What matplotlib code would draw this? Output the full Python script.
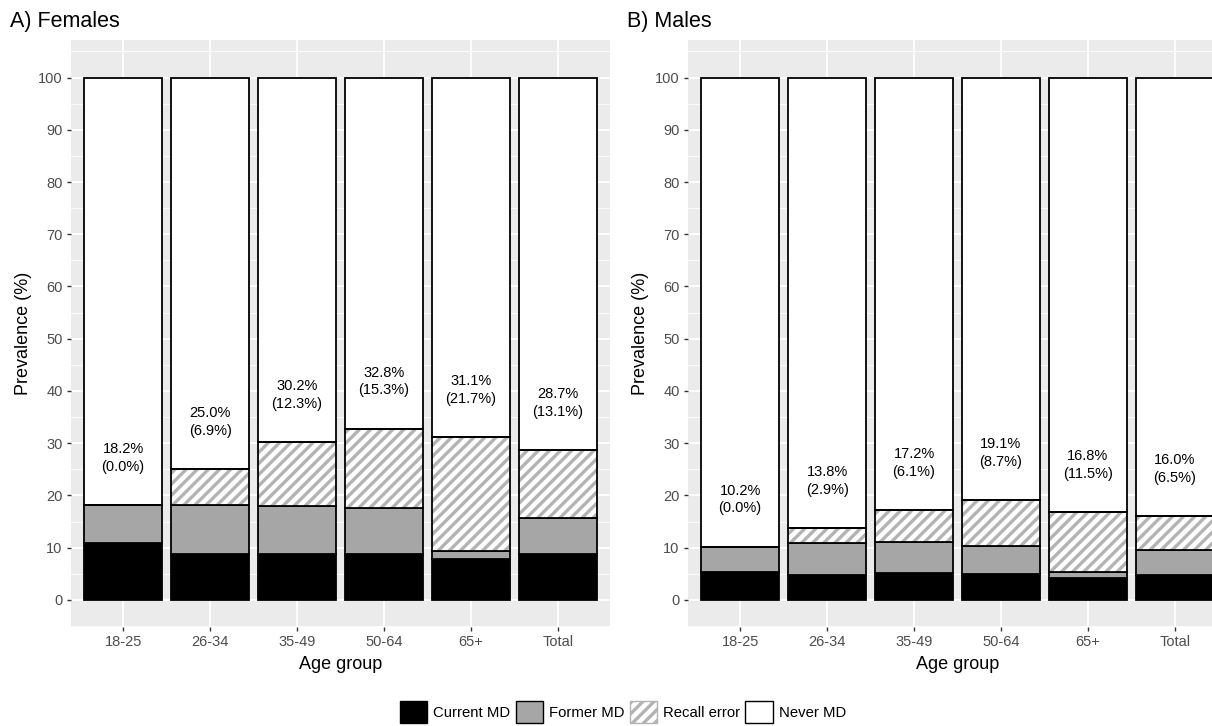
import numpy as np
import matplotlib
matplotlib.use('Agg')
import matplotlib.pyplot as plt
from matplotlib.patches import Patch

plt.rcParams['font.family'] = ['Liberation Sans', 'DejaVu Sans']
plt.rcParams['hatch.linewidth'] = 2.4

# Data (percent prevalence per age group)
age_groups = ['18-25', '26-34', '35-49', '50-64', '65+', 'Total']

female_current = [10.9, 8.7, 8.7, 8.7, 7.9, 8.7]
female_former = [7.3, 9.4, 9.2, 8.8, 1.5, 6.9]
female_recall = [0.0, 6.9, 12.3, 15.3, 21.7, 13.1]
female_total = [18.2, 25.0, 30.2, 32.8, 31.1, 28.7]

male_current = [5.4, 4.7, 5.2, 5.0, 4.2, 4.8]
male_former = [4.8, 6.2, 5.9, 5.4, 1.1, 4.7]
male_recall = [0.0, 2.9, 6.1, 8.7, 11.5, 6.5]
male_total = [10.2, 13.8, 17.2, 19.1, 16.8, 16.0]

panel_titles = ['A) Females', 'B) Males']
legend_labels = ['Current MD', 'Former MD', 'Recall error', 'Never MD']

GREY = '#A6A6A6'
HATCH = '#B3B3B3'
BG = '#EBEBEB'
W, H = 1212, 726


def draw_panel(ax, current, former, recall, total):
    x = np.arange(len(age_groups))
    current = np.array(current)
    former = np.array(former)
    recall = np.array(recall)
    total = np.array(total)
    never = 100 - total
    bw = 0.9
    lw = 1.3

    ax.bar(x, current, bw, color='black', edgecolor='black', linewidth=lw, zorder=3)
    ax.bar(x, former, bw, bottom=current, color=GREY, edgecolor='black',
           linewidth=lw, zorder=3)
    # hatch first, then outline on top
    ax.bar(x, recall, bw, bottom=current + former, color='white', edgecolor=HATCH,
           hatch='///', linewidth=0, zorder=3)
    ax.bar(x, recall, bw, bottom=current + former, color='none', edgecolor='black',
           linewidth=lw, zorder=4)
    ax.bar(x, never, bw, bottom=total, color='white', edgecolor='black',
           linewidth=lw, zorder=3)

    for xi, t, r in zip(x, total, recall):
        ax.text(xi, t + 9, f'{t:.1f}%\n({r:.1f}%)', ha='center', va='center',
                fontsize=10.5, linespacing=1.35, zorder=5)

    ax.set_facecolor(BG)
    ax.set_xlim(-0.6, len(age_groups) - 0.4)
    ax.set_ylim(-5.2, 107.2)
    ax.set_xticks(x)
    ax.set_xticklabels(age_groups)
    ax.set_yticks(np.arange(0, 101, 10))
    ax.set_yticks(np.arange(-5, 106, 10), minor=True)
    ax.grid(which='major', color='white', linewidth=1.3)
    ax.grid(which='minor', axis='y', color='white', linewidth=0.6)
    ax.set_axisbelow(True)
    for s in ax.spines.values():
        s.set_visible(False)
    ax.tick_params(which='major', length=3, width=1, color='#333333',
                   labelcolor='#4D4D4D', labelsize=10.5, pad=3)
    ax.tick_params(which='minor', length=0)
    ax.set_xlabel('Age group', fontsize=13, labelpad=5)
    ax.set_ylabel('Prevalence (%)', fontsize=13, labelpad=4)


fig = plt.figure(figsize=(W / 100, H / 100), dpi=100)

ax1 = fig.add_axes([71 / W, 1 - 627 / H, 539 / W, 587 / H])
ax2 = fig.add_axes([688 / W, 1 - 627 / H, 539 / W, 587 / H])

draw_panel(ax1, female_current, female_former, female_recall, female_total)
draw_panel(ax2, male_current, male_former, male_recall, male_total)

fig.text(10 / W, 1 - 21 / H, panel_titles[0], fontsize=15.5, ha='left', va='center')
fig.text(627 / W, 1 - 21 / H, panel_titles[1], fontsize=15.5, ha='left', va='center')

handles = [
    Patch(facecolor='black', edgecolor='black', linewidth=1),
    Patch(facecolor=GREY, edgecolor='black', linewidth=1),
    Patch(facecolor='white', edgecolor=HATCH, hatch='///', linewidth=1),
    Patch(facecolor='white', edgecolor='black', linewidth=1),
]
leg = fig.legend(handles, legend_labels, loc='center', ncol=4, frameon=False,
                 bbox_to_anchor=(623 / W, 1 - 712 / H), fontsize=10.7,
                 handlelength=1.85, handleheight=1.85, handletextpad=0.4,
                 columnspacing=0.35, borderaxespad=0)

fig.savefig('out.png', dpi=100)
